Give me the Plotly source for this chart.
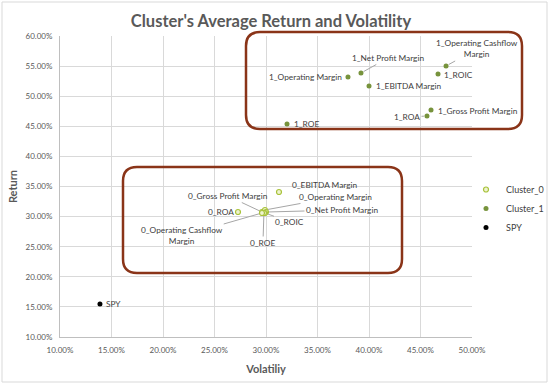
import plotly.graph_objects as go

# ---- data ----
c0_names = ["0_Gross Profit Margin", "0_Operating Margin", "0_Net Profit Margin", "0_ROIC",
            "0_ROE", "0_Operating Cashflow<br>Margin", "0_EBITDA Margin", "0_ROA"]
c0_vol = [0.2961, 0.2990, 0.3000, 0.2990, 0.2980, 0.2961, 0.3126, 0.2728]
c0_ret = [0.3076, 0.3110, 0.3076, 0.3060, 0.3060, 0.3060, 0.3409, 0.3076]

c1_names = ["1_ROE", "1_Operating Margin", "1_Net Profit Margin", "1_EBITDA Margin",
            "1_ROIC", "1_Operating Cashflow<br>Margin", "1_ROA", "1_Gross Profit Margin"]
c1_vol = [0.3204, 0.3796, 0.3922, 0.4000, 0.4670, 0.4748, 0.4563, 0.4602]
c1_ret = [0.4538, 0.5319, 0.5385, 0.5169, 0.5369, 0.5502, 0.4671, 0.4771]

spy_vol = [0.1388]
spy_ret = [0.1548]

x_ticks = [0.10, 0.15, 0.20, 0.25, 0.30, 0.35, 0.40, 0.45, 0.50]
y_ticks = [0.10, 0.15, 0.20, 0.25, 0.30, 0.35, 0.40, 0.45, 0.50, 0.55, 0.60]

# ---- label placement (pixel offsets of text centre from point, leader line flag) ----
c0_off = [(-34, -16, True), (71, -13, True), (76, -2, True), (25, 9, True),
          (-1, 30, True), (-80, 23, True), (46, -7, False), (-17, 0, False)]
c1_off = [(19, 0, False), (-42, 0, False), (27, -15, True), (40, 0, False),
          (20, 1, False), (31, -17, True), (-20, 1, True), (47, 1, False)]

W, H = 550, 385
ML, MR, MT, MB = 60, 78, 36, 48
PW, PH = W - ML - MR, H - MT - MB

FONT = "Lato"
LABEL_C = "#404040"
AXIS_C = "#595959"

fig = go.Figure()
fig.add_trace(go.Scatter(x=c0_vol, y=c0_ret, mode="markers", name="Cluster_0",
                         marker=dict(size=5, color="#EEF3CF", line=dict(color="#A8C23A", width=1.2))))
fig.add_trace(go.Scatter(x=c1_vol, y=c1_ret, mode="markers", name="Cluster_1",
                         marker=dict(size=5, color="#77933C")))
fig.add_trace(go.Scatter(x=spy_vol, y=spy_ret, mode="markers", name="SPY",
                         marker=dict(size=5, color="#000000")))

annotations = []
def add_labels(names, xs, ys, offs):
    for n, x, y, (dx, dy, lead) in zip(names, xs, ys, offs):
        annotations.append(dict(
            x=x, y=y, xref="x", yref="y", text=n, showarrow=True,
            ax=dx, ay=dy, axref="pixel", ayref="pixel",
            arrowhead=0, arrowwidth=1, standoff=3, startstandoff=0,
            arrowcolor="#A6A6A6" if lead else "rgba(0,0,0,0)",
            font=dict(family=FONT, size=8.3, color=LABEL_C), align="center",
        ))
add_labels(c0_names, c0_vol, c0_ret, c0_off)
add_labels(c1_names, c1_vol, c1_ret, c1_off)
add_labels(["SPY"], spy_vol, spy_ret, [(14, 0, False)])

def px_to_paper(px, py):
    return (px - ML) / PW, (H - MB - py) / PH

def rounded_rect(x0, y0, x1, y1, r):
    X0, Y0 = px_to_paper(x0, y0)
    X1, Y1 = px_to_paper(x1, y1)
    rx, ry = r / PW, r / PH
    return (f"M {X0+rx},{Y0} L {X1-rx},{Y0} Q {X1},{Y0} {X1},{Y0-ry} "
            f"L {X1},{Y1+ry} Q {X1},{Y1} {X1-rx},{Y1} "
            f"L {X0+rx},{Y1} Q {X0},{Y1} {X0},{Y1+ry} "
            f"L {X0},{Y0-ry} Q {X0},{Y0} {X0+rx},{Y0} Z")

BOX_C = "#8A3418"
shapes = [
    dict(type="path", xref="paper", yref="paper", path=rounded_rect(246, 32, 522, 129, 14),
         line=dict(color=BOX_C, width=2.5), layer="above"),
    dict(type="path", xref="paper", yref="paper", path=rounded_rect(123, 167, 402, 273, 14),
         line=dict(color=BOX_C, width=2.5), layer="above"),
]
bx0, by0 = px_to_paper(2, 2)
bx1, by1 = px_to_paper(547, 382)
shapes.append(dict(type="rect", xref="paper", yref="paper", x0=bx0, y0=by0, x1=bx1, y1=by1,
                   line=dict(color="#D9D9D9", width=1), layer="below"))

fig.update_layout(
    width=W, height=H,
    margin=dict(l=ML, r=MR, t=MT, b=MB, autoexpand=False),
    paper_bgcolor="white", plot_bgcolor="white",
    title=dict(text="<b>Cluster's Average Return and Volatility</b>", x=271 / W, xanchor="center",
               y=1 - 21 / H, yanchor="middle", xref="container",
               font=dict(family=FONT, size=16.5, color=AXIS_C)),
    showlegend=True,
    legend=dict(x=(466 - ML) / PW, xanchor="left", y=(H - MB - 175) / PH, yanchor="top",
                font=dict(family=FONT, size=9, color=LABEL_C), itemwidth=30,
                bgcolor="rgba(0,0,0,0)", tracegroupgap=0),
    xaxis=dict(range=[0.10, 0.50], tickvals=x_ticks, tickformat=".2%",
               showgrid=True, gridcolor="#D9D9D9", gridwidth=1,
               showline=True, linecolor="#BFBFBF", zeroline=False, ticks="",
               ticklabelstandoff=5,
               tickfont=dict(family=FONT, size=8, color=AXIS_C),
               title=dict(text="<b>Volatiliy</b>", font=dict(family=FONT, size=11, color=AXIS_C), standoff=11)),
    yaxis=dict(range=[0.10, 0.60], tickvals=y_ticks, tickformat=".2%",
               showgrid=True, gridcolor="#D9D9D9", gridwidth=1,
               showline=True, linecolor="#BFBFBF", zeroline=False, ticks="",
               ticklabelstandoff=5,
               tickfont=dict(family=FONT, size=8, color=AXIS_C),
               title=dict(text="<b>Return</b>", font=dict(family=FONT, size=11, color=AXIS_C), standoff=5)),
    annotations=annotations,
    shapes=shapes,
)

fig.write_html("out.html", config={"displayModeBar": False},
               post_script="document.body.style.margin='0';document.body.style.padding='0';")
